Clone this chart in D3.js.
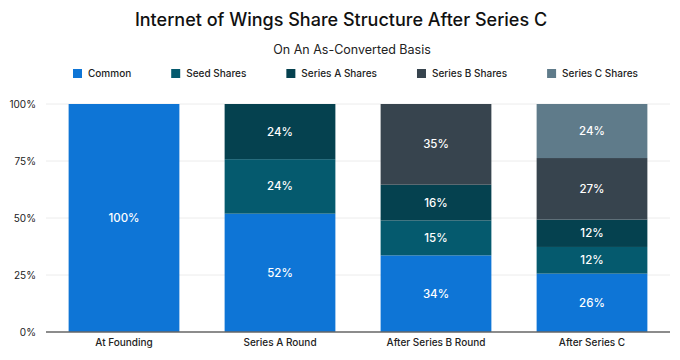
<!DOCTYPE html>
<html>
<head>
<meta charset="utf-8">
<script src="https://cdn.jsdelivr.net/npm/d3@7"></script>
<style>
  body { margin: 0; background: #fff; }
  svg { font-family: Inter, "Open Sans", sans-serif; }
</style>
</head>
<body>
<div id="graph"></div>
<script>
"use strict";
const rounds = ["At Founding", "Series A Round", "After Series B Round", "After Series C"];
const seriesNames = ["Common", "Seed Shares", "Series A Shares", "Series B Shares", "Series C Shares"];
const common  = [100, 51.9, 33.6, 25.6];
const seed    = [0, 23.9, 15.3, 11.7];
const seriesA = [0, 24.2, 15.7, 12.0];
const seriesB = [0, 0, 35.4, 27.0];
const seriesC = [0, 0, 0, 23.7];
const yTicks = [0, 25, 50, 75, 100];
const colors = ["#0e75d6", "#055a6e", "#05414f", "#37444e", "#5f7b8a"];

(function() {
    const width = 680, height = 360;
    const margin = {top: 104, right: 10, bottom: 28, left: 46};

    const svg = d3.select("#graph").append("svg")
        .attr("width", width).attr("height", height);

    svg.append("text")
        .attr("x", width / 2 + 1).attr("y", 26)
        .attr("text-anchor", "middle")
        .attr("font-size", 18).attr("font-weight", 500).attr("fill", "#111")
        .text("Internet of Wings Share Structure After Series C");

    svg.append("text")
        .attr("x", 352).attr("y", 54)
        .attr("text-anchor", "middle")
        .attr("font-size", 12.5).attr("fill", "#222")
        .text("On An As-Converted Basis");

    // legend
    const legend = svg.append("g");
    let lx = 0;
    seriesNames.forEach((name, i) => {
        let item = legend.append("g").attr("transform", "translate(" + lx + ",0)");
        item.append("rect").attr("x", 0).attr("y", -9).attr("width", 9).attr("height", 9)
            .attr("fill", colors[i]);
        let t = item.append("text").attr("x", 15).attr("y", -1)
            .attr("font-size", 10).attr("font-weight", 500).attr("fill", "#222").text(name);
        lx += 15 + t.node().getComputedTextLength() + 40;
    });
    legend.attr("transform", "translate(73,78)");

    const data = rounds.map((r, i) => ({
        round: r,
        "Common": common[i],
        "Seed Shares": seed[i],
        "Series A Shares": seriesA[i],
        "Series B Shares": seriesB[i],
        "Series C Shares": seriesC[i]
    }));
    const stacked = d3.stack().keys(seriesNames)(data);

    const x = d3.scaleBand().domain(rounds)
        .range([margin.left, width - margin.right])
        .paddingInner(0.29).paddingOuter(0.145);
    const y = d3.scaleLinear().domain([0, 100]).range([height - margin.bottom, margin.top]);

    // grid
    svg.append("g").selectAll("line").data(yTicks.slice(1)).join("line")
        .attr("x1", margin.left).attr("x2", width - margin.right)
        .attr("y1", d => y(d)).attr("y2", d => y(d))
        .attr("stroke", "#ececec");

    const layers = svg.append("g").selectAll("g").data(stacked).join("g")
        .attr("fill", (d, i) => colors[i]);
    layers.selectAll("rect").data(d => d.filter(s => s[1] - s[0] > 0)).join("rect")
        .attr("x", d => x(d.data.round))
        .attr("width", x.bandwidth())
        .attr("y", d => y(d[1]))
        .attr("height", d => y(d[0]) - y(d[1]));

    layers.selectAll("text").data(d => d.filter(s => s[1] - s[0] > 0)).join("text")
        .attr("x", d => x(d.data.round) + x.bandwidth() / 2)
        .attr("y", d => y((d[0] + d[1]) / 2) + 4)
        .attr("text-anchor", "middle")
        .attr("font-size", 11.5).attr("font-weight", 500).attr("fill", "#fff")
        .text(d => Math.round(d[1] - d[0]) + "%");

    // axes
    const yAxis = svg.append("g")
        .attr("transform", "translate(" + margin.left + ",0)")
        .call(d3.axisLeft(y).tickValues(yTicks).tickSize(0).tickPadding(10).tickFormat(d => d + "%"));
    yAxis.select(".domain").remove();
    yAxis.selectAll("text").attr("font-size", 10).attr("font-family", "Inter, sans-serif")
        .attr("fill", "#222");

    const xAxis = svg.append("g")
        .attr("transform", "translate(0," + (height - margin.bottom) + ")")
        .call(d3.axisBottom(x).tickSize(0).tickPadding(7));
    xAxis.select(".domain").attr("stroke", "#666").attr("stroke-width", 1.5)
        .attr("d", "M" + margin.left + ",0H" + (width - margin.right));
    xAxis.selectAll("text").attr("font-size", 10).attr("font-weight", 500)
        .attr("font-family", "Inter, sans-serif").attr("fill", "#222");
})();
</script>
</body>
</html>
